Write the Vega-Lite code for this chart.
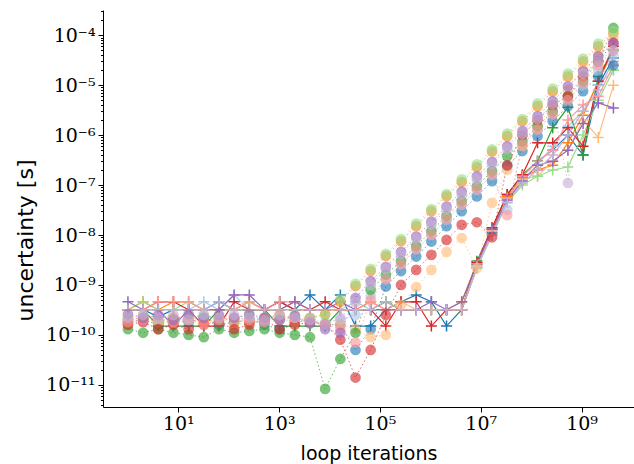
{
  "$schema": "https://vega.github.io/schema/vega-lite/v6.json",
  "width": 531,
  "height": 397,
  "autosize": {"type": "none"},
  "padding": {"left": 103, "top": 10, "right": 0, "bottom": 57},
  "background": "white",
  "config": {"view": {"stroke": null}},
  "datasets": {
    "plus": [
      {"c":"b","x":1,"y":3.2e-10},{"c":"b","x":2,"y":3.2e-10},{"c":"b","x":4,"y":2.3e-10},{"c":"b","x":8,"y":3.2e-10},{"c":"b","x":16,"y":3.2e-10},{"c":"b","x":32,"y":3.2e-10},{"c":"b","x":64,"y":4.6e-10},{"c":"b","x":128,"y":3.2e-10},{"c":"b","x":256,"y":3.2e-10},{"c":"b","x":512,"y":3.2e-10},{"c":"b","x":1024,"y":4.6e-10},{"c":"b","x":2048,"y":3.2e-10},{"c":"b","x":4096,"y":6.3e-10},{"c":"b","x":8192,"y":3.2e-10},{"c":"b","x":16384,"y":6.3e-10},{"c":"b","x":32768,"y":1.5e-10},{"c":"b","x":65536,"y":1.5e-10},{"c":"b","x":131072,"y":3.2e-10},{"c":"b","x":262144,"y":4.6e-10},{"c":"b","x":524288,"y":6.3e-10},{"c":"b","x":1048576,"y":4.6e-10},{"c":"b","x":2097152,"y":1.5e-10},{"c":"b","x":4194304,"y":3.2e-10},{"c":"b","x":8388608,"y":2.2e-9},{"c":"b","x":16777216,"y":1.1e-8},{"c":"b","x":33554432,"y":5.5e-8},{"c":"b","x":67108864,"y":1.5e-7},{"c":"b","x":134217728,"y":3e-7},{"c":"b","x":268435456,"y":5e-7},{"c":"b","x":536870912,"y":1e-6},{"c":"b","x":1073741824,"y":4e-7},{"c":"b","x":2147483648,"y":1e-5},{"c":"b","x":4294967296,"y":3.5e-5},
      {"c":"lb","x":1,"y":3.2e-10},{"c":"lb","x":2,"y":3.2e-10},{"c":"lb","x":4,"y":3.2e-10},{"c":"lb","x":8,"y":3.2e-10},{"c":"lb","x":16,"y":3.2e-10},{"c":"lb","x":32,"y":4.6e-10},{"c":"lb","x":64,"y":3.2e-10},{"c":"lb","x":128,"y":6.3e-10},{"c":"lb","x":256,"y":3.2e-10},{"c":"lb","x":512,"y":3.2e-10},{"c":"lb","x":1024,"y":3.2e-10},{"c":"lb","x":2048,"y":3.2e-10},{"c":"lb","x":4096,"y":3.2e-10},{"c":"lb","x":8192,"y":3.2e-10},{"c":"lb","x":16384,"y":3.2e-10},{"c":"lb","x":32768,"y":4.6e-10},{"c":"lb","x":65536,"y":3.2e-10},{"c":"lb","x":131072,"y":3.2e-10},{"c":"lb","x":262144,"y":3.2e-10},{"c":"lb","x":524288,"y":3.2e-10},{"c":"lb","x":1048576,"y":3.2e-10},{"c":"lb","x":2097152,"y":3.2e-10},{"c":"lb","x":4194304,"y":3.2e-10},{"c":"lb","x":8388608,"y":2.4e-9},{"c":"lb","x":16777216,"y":1e-8},{"c":"lb","x":33554432,"y":5e-8},{"c":"lb","x":67108864,"y":1.3e-7},{"c":"lb","x":134217728,"y":2.5e-7},{"c":"lb","x":268435456,"y":6e-7},{"c":"lb","x":536870912,"y":1.5e-6},{"c":"lb","x":1073741824,"y":3e-6},{"c":"lb","x":2147483648,"y":1e-5},{"c":"lb","x":4294967296,"y":2e-5},
      {"c":"o","x":1,"y":3.2e-10},{"c":"o","x":2,"y":4.6e-10},{"c":"o","x":4,"y":3.2e-10},{"c":"o","x":8,"y":4.6e-10},{"c":"o","x":16,"y":4.6e-10},{"c":"o","x":32,"y":3.2e-10},{"c":"o","x":64,"y":3.2e-10},{"c":"o","x":128,"y":3.2e-10},{"c":"o","x":256,"y":4.6e-10},{"c":"o","x":512,"y":3.2e-10},{"c":"o","x":1024,"y":3.2e-10},{"c":"o","x":2048,"y":4.6e-10},{"c":"o","x":4096,"y":3.2e-10},{"c":"o","x":8192,"y":3.2e-10},{"c":"o","x":16384,"y":3.2e-10},{"c":"o","x":32768,"y":3.2e-10},{"c":"o","x":65536,"y":4.6e-10},{"c":"o","x":131072,"y":3.2e-10},{"c":"o","x":262144,"y":3.2e-10},{"c":"o","x":524288,"y":3.2e-10},{"c":"o","x":1048576,"y":3.2e-10},{"c":"o","x":2097152,"y":3.2e-10},{"c":"o","x":4194304,"y":4.6e-10},{"c":"o","x":8388608,"y":2.8e-9},{"c":"o","x":16777216,"y":1.4e-8},{"c":"o","x":33554432,"y":6e-8},{"c":"o","x":67108864,"y":1.4e-7},{"c":"o","x":134217728,"y":2e-7},{"c":"o","x":268435456,"y":2.5e-7},{"c":"o","x":536870912,"y":7e-7},{"c":"o","x":1073741824,"y":2.5e-6},{"c":"o","x":2147483648,"y":1.2e-5},{"c":"o","x":4294967296,"y":5e-5},
      {"c":"lo","x":1,"y":3.2e-10},{"c":"lo","x":2,"y":3.2e-10},{"c":"lo","x":4,"y":3.2e-10},{"c":"lo","x":8,"y":3.2e-10},{"c":"lo","x":16,"y":3.2e-10},{"c":"lo","x":32,"y":3.2e-10},{"c":"lo","x":64,"y":3.2e-10},{"c":"lo","x":128,"y":3.2e-10},{"c":"lo","x":256,"y":3.2e-10},{"c":"lo","x":512,"y":3.2e-10},{"c":"lo","x":1024,"y":3.2e-10},{"c":"lo","x":2048,"y":3.2e-10},{"c":"lo","x":4096,"y":3.2e-10},{"c":"lo","x":8192,"y":3.2e-10},{"c":"lo","x":16384,"y":3.2e-10},{"c":"lo","x":32768,"y":3.2e-10},{"c":"lo","x":65536,"y":3.2e-10},{"c":"lo","x":131072,"y":3.2e-10},{"c":"lo","x":262144,"y":4.6e-10},{"c":"lo","x":524288,"y":3.2e-10},{"c":"lo","x":1048576,"y":3.2e-10},{"c":"lo","x":2097152,"y":3.2e-10},{"c":"lo","x":4194304,"y":3.2e-10},{"c":"lo","x":8388608,"y":2.5e-9},{"c":"lo","x":16777216,"y":1.2e-8},{"c":"lo","x":33554432,"y":5.5e-8},{"c":"lo","x":67108864,"y":1.3e-7},{"c":"lo","x":134217728,"y":1.5e-7},{"c":"lo","x":268435456,"y":3e-7},{"c":"lo","x":536870912,"y":5e-7},{"c":"lo","x":1073741824,"y":2e-6},{"c":"lo","x":2147483648,"y":9e-7},{"c":"lo","x":4294967296,"y":1e-5},
      {"c":"g","x":1,"y":3.2e-10},{"c":"g","x":2,"y":3.2e-10},{"c":"g","x":4,"y":1.5e-10},{"c":"g","x":8,"y":1.5e-10},{"c":"g","x":16,"y":1.5e-10},{"c":"g","x":32,"y":1.5e-10},{"c":"g","x":64,"y":3.2e-10},{"c":"g","x":128,"y":3.2e-10},{"c":"g","x":256,"y":3.2e-10},{"c":"g","x":512,"y":3.2e-10},{"c":"g","x":1024,"y":1.5e-10},{"c":"g","x":2048,"y":1.5e-10},{"c":"g","x":4096,"y":1.5e-10},{"c":"g","x":8192,"y":1.5e-10},{"c":"g","x":16384,"y":3.2e-10},{"c":"g","x":32768,"y":3.2e-10},{"c":"g","x":65536,"y":3.2e-10},{"c":"g","x":131072,"y":4.6e-10},{"c":"g","x":262144,"y":3.2e-10},{"c":"g","x":524288,"y":3.2e-10},{"c":"g","x":1048576,"y":3.2e-10},{"c":"g","x":2097152,"y":3.2e-10},{"c":"g","x":4194304,"y":3.2e-10},{"c":"g","x":8388608,"y":3e-9},{"c":"g","x":16777216,"y":1.3e-8},{"c":"g","x":33554432,"y":6.5e-8},{"c":"g","x":67108864,"y":1.6e-7},{"c":"g","x":134217728,"y":3e-7},{"c":"g","x":268435456,"y":1.4e-6},{"c":"g","x":536870912,"y":3.6e-6},{"c":"g","x":1073741824,"y":4e-7},{"c":"g","x":2147483648,"y":1.5e-5},{"c":"g","x":4294967296,"y":5e-5},
      {"c":"lg","x":1,"y":3.2e-10},{"c":"lg","x":2,"y":4.6e-10},{"c":"lg","x":4,"y":3.2e-10},{"c":"lg","x":8,"y":3.2e-10},{"c":"lg","x":16,"y":4.6e-10},{"c":"lg","x":32,"y":3.2e-10},{"c":"lg","x":64,"y":3.2e-10},{"c":"lg","x":128,"y":3.2e-10},{"c":"lg","x":256,"y":4.6e-10},{"c":"lg","x":512,"y":3.2e-10},{"c":"lg","x":1024,"y":3.2e-10},{"c":"lg","x":2048,"y":3.2e-10},{"c":"lg","x":4096,"y":3.2e-10},{"c":"lg","x":8192,"y":3.2e-10},{"c":"lg","x":16384,"y":3.2e-10},{"c":"lg","x":32768,"y":3.2e-10},{"c":"lg","x":65536,"y":3.2e-10},{"c":"lg","x":131072,"y":3.2e-10},{"c":"lg","x":262144,"y":3.2e-10},{"c":"lg","x":524288,"y":3.2e-10},{"c":"lg","x":1048576,"y":3.2e-10},{"c":"lg","x":2097152,"y":3.2e-10},{"c":"lg","x":4194304,"y":3.2e-10},{"c":"lg","x":8388608,"y":2.2e-9},{"c":"lg","x":16777216,"y":1e-8},{"c":"lg","x":33554432,"y":4.5e-8},{"c":"lg","x":67108864,"y":1e-7},{"c":"lg","x":134217728,"y":1.5e-7},{"c":"lg","x":268435456,"y":2e-7},{"c":"lg","x":536870912,"y":2.3e-7},{"c":"lg","x":1073741824,"y":1e-6},{"c":"lg","x":2147483648,"y":5e-6},{"c":"lg","x":4294967296,"y":2e-5},
      {"c":"r","x":1,"y":3.2e-10},{"c":"r","x":2,"y":3.2e-10},{"c":"r","x":4,"y":4.6e-10},{"c":"r","x":8,"y":4.6e-10},{"c":"r","x":16,"y":3.2e-10},{"c":"r","x":32,"y":1.5e-10},{"c":"r","x":64,"y":1.5e-10},{"c":"r","x":128,"y":4.6e-10},{"c":"r","x":256,"y":3.2e-10},{"c":"r","x":512,"y":3.2e-10},{"c":"r","x":1024,"y":4.6e-10},{"c":"r","x":2048,"y":3.2e-10},{"c":"r","x":4096,"y":3.2e-10},{"c":"r","x":8192,"y":4.6e-10},{"c":"r","x":16384,"y":3.2e-10},{"c":"r","x":32768,"y":3.2e-10},{"c":"r","x":65536,"y":3.2e-10},{"c":"r","x":131072,"y":1.5e-10},{"c":"r","x":262144,"y":4.6e-10},{"c":"r","x":524288,"y":4.6e-10},{"c":"r","x":1048576,"y":1.5e-10},{"c":"r","x":2097152,"y":3.2e-10},{"c":"r","x":4194304,"y":3.2e-10},{"c":"r","x":8388608,"y":2.8e-9},{"c":"r","x":16777216,"y":1.4e-8},{"c":"r","x":33554432,"y":6.5e-8},{"c":"r","x":67108864,"y":1.6e-7},{"c":"r","x":134217728,"y":7e-7},{"c":"r","x":268435456,"y":7e-7},{"c":"r","x":536870912,"y":1.4e-6},{"c":"r","x":1073741824,"y":6e-7},{"c":"r","x":2147483648,"y":1.2e-5},{"c":"r","x":4294967296,"y":6e-5},
      {"c":"lr","x":1,"y":3.2e-10},{"c":"lr","x":2,"y":3.2e-10},{"c":"lr","x":4,"y":4.6e-10},{"c":"lr","x":8,"y":4.6e-10},{"c":"lr","x":16,"y":4.6e-10},{"c":"lr","x":32,"y":3.2e-10},{"c":"lr","x":64,"y":3.2e-10},{"c":"lr","x":128,"y":3.2e-10},{"c":"lr","x":256,"y":4.6e-10},{"c":"lr","x":512,"y":3.2e-10},{"c":"lr","x":1024,"y":4.6e-10},{"c":"lr","x":2048,"y":4.6e-10},{"c":"lr","x":4096,"y":3.2e-10},{"c":"lr","x":8192,"y":3.2e-10},{"c":"lr","x":16384,"y":3.2e-10},{"c":"lr","x":32768,"y":3.2e-10},{"c":"lr","x":65536,"y":4.6e-10},{"c":"lr","x":131072,"y":3.2e-10},{"c":"lr","x":262144,"y":3.2e-10},{"c":"lr","x":524288,"y":3.2e-10},{"c":"lr","x":1048576,"y":3.2e-10},{"c":"lr","x":2097152,"y":3.2e-10},{"c":"lr","x":4194304,"y":3.2e-10},{"c":"lr","x":8388608,"y":2.5e-9},{"c":"lr","x":16777216,"y":1.2e-8},{"c":"lr","x":33554432,"y":5.5e-8},{"c":"lr","x":67108864,"y":1.5e-7},{"c":"lr","x":134217728,"y":3e-7},{"c":"lr","x":268435456,"y":5e-7},{"c":"lr","x":536870912,"y":2e-6},{"c":"lr","x":1073741824,"y":4e-6},{"c":"lr","x":2147483648,"y":6e-6},{"c":"lr","x":4294967296,"y":2.5e-5},
      {"c":"p","x":1,"y":4.6e-10},{"c":"p","x":2,"y":3.2e-10},{"c":"p","x":4,"y":3.2e-10},{"c":"p","x":8,"y":1.5e-10},{"c":"p","x":16,"y":3.2e-10},{"c":"p","x":32,"y":3.2e-10},{"c":"p","x":64,"y":3.2e-10},{"c":"p","x":128,"y":6.3e-10},{"c":"p","x":256,"y":6.3e-10},{"c":"p","x":512,"y":3.2e-10},{"c":"p","x":1024,"y":3.2e-10},{"c":"p","x":2048,"y":4.6e-10},{"c":"p","x":4096,"y":3.2e-10},{"c":"p","x":8192,"y":3.2e-10},{"c":"p","x":16384,"y":4.6e-10},{"c":"p","x":32768,"y":3.2e-10},{"c":"p","x":65536,"y":3.2e-10},{"c":"p","x":131072,"y":3.2e-10},{"c":"p","x":262144,"y":3.2e-10},{"c":"p","x":524288,"y":3.2e-10},{"c":"p","x":1048576,"y":4.6e-10},{"c":"p","x":2097152,"y":3.2e-10},{"c":"p","x":4194304,"y":4.6e-10},{"c":"p","x":8388608,"y":2.6e-9},{"c":"p","x":16777216,"y":1.3e-8},{"c":"p","x":33554432,"y":5e-8},{"c":"p","x":67108864,"y":1.2e-7},{"c":"p","x":134217728,"y":2.5e-7},{"c":"p","x":268435456,"y":3e-7},{"c":"p","x":536870912,"y":5e-7},{"c":"p","x":1073741824,"y":1.7e-6},{"c":"p","x":2147483648,"y":4.4e-6},{"c":"p","x":4294967296,"y":3.5e-6},
      {"c":"lp","x":1,"y":3.2e-10},{"c":"lp","x":2,"y":3.2e-10},{"c":"lp","x":4,"y":3.2e-10},{"c":"lp","x":8,"y":3.2e-10},{"c":"lp","x":16,"y":3.2e-10},{"c":"lp","x":32,"y":3.2e-10},{"c":"lp","x":64,"y":4.6e-10},{"c":"lp","x":128,"y":3.2e-10},{"c":"lp","x":256,"y":3.2e-10},{"c":"lp","x":512,"y":3.2e-10},{"c":"lp","x":1024,"y":3.2e-10},{"c":"lp","x":2048,"y":3.2e-10},{"c":"lp","x":4096,"y":3.2e-10},{"c":"lp","x":8192,"y":3.2e-10},{"c":"lp","x":16384,"y":3.2e-10},{"c":"lp","x":32768,"y":3.2e-10},{"c":"lp","x":65536,"y":3.2e-10},{"c":"lp","x":131072,"y":4.6e-10},{"c":"lp","x":262144,"y":3.2e-10},{"c":"lp","x":524288,"y":3.2e-10},{"c":"lp","x":1048576,"y":3.2e-10},{"c":"lp","x":2097152,"y":3.2e-10},{"c":"lp","x":4194304,"y":3.2e-10},{"c":"lp","x":8388608,"y":2.3e-9},{"c":"lp","x":16777216,"y":1e-8},{"c":"lp","x":33554432,"y":4.5e-8},{"c":"lp","x":67108864,"y":1.1e-7},{"c":"lp","x":134217728,"y":2e-7},{"c":"lp","x":268435456,"y":4e-7},{"c":"lp","x":536870912,"y":1e-6},{"c":"lp","x":1073741824,"y":3e-6},{"c":"lp","x":2147483648,"y":8e-6},{"c":"lp","x":4294967296,"y":3e-5}
    ],
    "circ": [
      {"c":"b","x":1,"y":1.8e-10},{"c":"b","x":2,"y":2e-10},{"c":"b","x":4,"y":1.6e-10},{"c":"b","x":8,"y":2e-10},{"c":"b","x":16,"y":1.8e-10},{"c":"b","x":32,"y":2.2e-10},{"c":"b","x":64,"y":1.6e-10},{"c":"b","x":128,"y":1.8e-10},{"c":"b","x":256,"y":2e-10},{"c":"b","x":512,"y":1.6e-10},{"c":"b","x":1024,"y":1.3e-10},{"c":"b","x":2048,"y":1.8e-10},{"c":"b","x":4096,"y":2e-10},{"c":"b","x":8192,"y":1.6e-10},{"c":"b","x":16384,"y":1.6e-10},{"c":"b","x":32768,"y":5e-11},{"c":"b","x":65536,"y":1.3e-10},{"c":"b","x":131072,"y":9.3e-10},{"c":"b","x":262144,"y":1.9e-9},{"c":"b","x":524288,"y":3.7e-9},{"c":"b","x":1048576,"y":7.4e-9},{"c":"b","x":2097152,"y":1.5e-8},{"c":"b","x":4194304,"y":3e-8},{"c":"b","x":8388608,"y":5.9e-8},{"c":"b","x":16777216,"y":1.2e-7},{"c":"b","x":33554432,"y":2.4e-7},{"c":"b","x":67108864,"y":4.8e-7},{"c":"b","x":134217728,"y":9.5e-7},{"c":"b","x":268435456,"y":1.9e-6},{"c":"b","x":536870912,"y":3.8e-6},{"c":"b","x":1073741824,"y":7.6e-6},{"c":"b","x":2147483648,"y":1.5e-5},{"c":"b","x":4294967296,"y":2.5e-5},
      {"c":"lb","x":1,"y":2e-10},{"c":"lb","x":2,"y":2.2e-10},{"c":"lb","x":4,"y":1.8e-10},{"c":"lb","x":8,"y":2e-10},{"c":"lb","x":16,"y":2.2e-10},{"c":"lb","x":32,"y":2e-10},{"c":"lb","x":64,"y":1.8e-10},{"c":"lb","x":128,"y":2.2e-10},{"c":"lb","x":256,"y":2e-10},{"c":"lb","x":512,"y":2.2e-10},{"c":"lb","x":1024,"y":2e-10},{"c":"lb","x":2048,"y":1.8e-10},{"c":"lb","x":4096,"y":2e-10},{"c":"lb","x":8192,"y":1.8e-10},{"c":"lb","x":16384,"y":2e-10},{"c":"lb","x":32768,"y":2.5e-10},{"c":"lb","x":65536,"y":6e-10},{"c":"lb","x":131072,"y":1.3e-9},{"c":"lb","x":262144,"y":2.6e-9},{"c":"lb","x":524288,"y":5.2e-9},{"c":"lb","x":1048576,"y":1e-8},{"c":"lb","x":2097152,"y":2e-8},{"c":"lb","x":4194304,"y":4e-8},{"c":"lb","x":8388608,"y":8e-8},{"c":"lb","x":16777216,"y":1.6e-7},{"c":"lb","x":33554432,"y":3.2e-8},{"c":"lb","x":67108864,"y":6.5e-7},{"c":"lb","x":134217728,"y":1.3e-6},{"c":"lb","x":268435456,"y":2.7e-6},{"c":"lb","x":536870912,"y":5.4e-6},{"c":"lb","x":1073741824,"y":1e-5},{"c":"lb","x":2147483648,"y":2e-5},{"c":"lb","x":4294967296,"y":4e-5},
      {"c":"o","x":1,"y":2e-10},{"c":"o","x":2,"y":2.2e-10},{"c":"o","x":4,"y":1.8e-10},{"c":"o","x":8,"y":2.2e-10},{"c":"o","x":16,"y":2e-10},{"c":"o","x":32,"y":1.8e-10},{"c":"o","x":64,"y":2.2e-10},{"c":"o","x":128,"y":2e-10},{"c":"o","x":256,"y":1.8e-10},{"c":"o","x":512,"y":2.2e-10},{"c":"o","x":1024,"y":2.5e-10},{"c":"o","x":2048,"y":2e-10},{"c":"o","x":4096,"y":2.2e-10},{"c":"o","x":8192,"y":2.6e-10},{"c":"o","x":16384,"y":4.6e-10},{"c":"o","x":32768,"y":9.5e-10},{"c":"o","x":65536,"y":1.9e-9},{"c":"o","x":131072,"y":3.8e-9},{"c":"o","x":262144,"y":7.5e-9},{"c":"o","x":524288,"y":1.5e-8},{"c":"o","x":1048576,"y":3e-8},{"c":"o","x":2097152,"y":6e-8},{"c":"o","x":4194304,"y":1.15e-7},{"c":"o","x":8388608,"y":2.3e-7},{"c":"o","x":16777216,"y":4.7e-7},{"c":"o","x":33554432,"y":9.5e-7},{"c":"o","x":67108864,"y":1.9e-6},{"c":"o","x":134217728,"y":3.8e-6},{"c":"o","x":268435456,"y":7.5e-6},{"c":"o","x":536870912,"y":1.5e-5},{"c":"o","x":1073741824,"y":3e-5},{"c":"o","x":2147483648,"y":6e-5},{"c":"o","x":4294967296,"y":1.1e-4},
      {"c":"lo","x":1,"y":1.6e-10},{"c":"lo","x":2,"y":2e-10},{"c":"lo","x":4,"y":1.8e-10},{"c":"lo","x":8,"y":1.6e-10},{"c":"lo","x":16,"y":2e-10},{"c":"lo","x":32,"y":1.8e-10},{"c":"lo","x":64,"y":2.2e-10},{"c":"lo","x":128,"y":1.6e-10},{"c":"lo","x":256,"y":1.8e-10},{"c":"lo","x":512,"y":2e-10},{"c":"lo","x":1024,"y":2.2e-10},{"c":"lo","x":2048,"y":1.8e-10},{"c":"lo","x":4096,"y":2e-10},{"c":"lo","x":8192,"y":1.6e-10},{"c":"lo","x":16384,"y":1.6e-10},{"c":"lo","x":32768,"y":1.3e-10},{"c":"lo","x":65536,"y":9e-11},{"c":"lo","x":131072,"y":1e-10},{"c":"lo","x":262144,"y":4e-10},{"c":"lo","x":524288,"y":9e-10},{"c":"lo","x":1048576,"y":2e-9},{"c":"lo","x":2097152,"y":4.6e-9},{"c":"lo","x":4194304,"y":8.7e-9},{"c":"lo","x":8388608,"y":2.2e-9},{"c":"lo","x":16777216,"y":4.4e-8},{"c":"lo","x":33554432,"y":2e-7},{"c":"lo","x":67108864,"y":6e-7},{"c":"lo","x":134217728,"y":1.5e-6},{"c":"lo","x":268435456,"y":4e-6},{"c":"lo","x":536870912,"y":8e-6},{"c":"lo","x":1073741824,"y":2e-5},{"c":"lo","x":2147483648,"y":4e-5},{"c":"lo","x":4294967296,"y":9e-5},
      {"c":"g","x":1,"y":1.3e-10},{"c":"g","x":2,"y":1.1e-10},{"c":"g","x":4,"y":1.3e-10},{"c":"g","x":8,"y":1.1e-10},{"c":"g","x":16,"y":1e-10},{"c":"g","x":32,"y":9e-11},{"c":"g","x":64,"y":1.3e-10},{"c":"g","x":128,"y":1.1e-10},{"c":"g","x":256,"y":1.2e-10},{"c":"g","x":512,"y":1.3e-10},{"c":"g","x":1024,"y":1.1e-10},{"c":"g","x":2048,"y":1e-10},{"c":"g","x":4096,"y":9e-11},{"c":"g","x":8192,"y":8.3e-12},{"c":"g","x":16384,"y":3.3e-11},{"c":"g","x":32768,"y":1.1e-10},{"c":"g","x":65536,"y":8e-10},{"c":"g","x":131072,"y":1.6e-9},{"c":"g","x":262144,"y":3e-9},{"c":"g","x":524288,"y":6e-9},{"c":"g","x":1048576,"y":1.2e-8},{"c":"g","x":2097152,"y":2.4e-8},{"c":"g","x":4194304,"y":4.8e-8},{"c":"g","x":8388608,"y":9.5e-8},{"c":"g","x":16777216,"y":1.9e-7},{"c":"g","x":33554432,"y":3.8e-7},{"c":"g","x":67108864,"y":7.5e-7},{"c":"g","x":134217728,"y":1.5e-6},{"c":"g","x":268435456,"y":3e-6},{"c":"g","x":536870912,"y":6e-6},{"c":"g","x":1073741824,"y":1.2e-5},{"c":"g","x":2147483648,"y":3e-5},{"c":"g","x":4294967296,"y":1.4e-4},
      {"c":"lg","x":1,"y":2.2e-10},{"c":"lg","x":2,"y":2.5e-10},{"c":"lg","x":4,"y":2e-10},{"c":"lg","x":8,"y":1.8e-10},{"c":"lg","x":16,"y":2.2e-10},{"c":"lg","x":32,"y":2.5e-10},{"c":"lg","x":64,"y":2e-10},{"c":"lg","x":128,"y":2.2e-10},{"c":"lg","x":256,"y":2.5e-10},{"c":"lg","x":512,"y":2e-10},{"c":"lg","x":1024,"y":2.2e-10},{"c":"lg","x":2048,"y":2.5e-10},{"c":"lg","x":4096,"y":2.2e-10},{"c":"lg","x":8192,"y":2.5e-10},{"c":"lg","x":16384,"y":5.1e-10},{"c":"lg","x":32768,"y":1.05e-9},{"c":"lg","x":65536,"y":2.1e-9},{"c":"lg","x":131072,"y":4.2e-9},{"c":"lg","x":262144,"y":8.3e-9},{"c":"lg","x":524288,"y":1.7e-8},{"c":"lg","x":1048576,"y":3.3e-8},{"c":"lg","x":2097152,"y":6.6e-8},{"c":"lg","x":4194304,"y":1.3e-7},{"c":"lg","x":8388608,"y":2.6e-7},{"c":"lg","x":16777216,"y":5.2e-7},{"c":"lg","x":33554432,"y":1.07e-6},{"c":"lg","x":67108864,"y":2.1e-6},{"c":"lg","x":134217728,"y":4.3e-6},{"c":"lg","x":268435456,"y":8.5e-6},{"c":"lg","x":536870912,"y":1.7e-5},{"c":"lg","x":1073741824,"y":3.4e-5},{"c":"lg","x":2147483648,"y":6.8e-5},{"c":"lg","x":4294967296,"y":1.2e-4},
      {"c":"r","x":1,"y":1.6e-10},{"c":"r","x":2,"y":1.8e-10},{"c":"r","x":4,"y":1.3e-10},{"c":"r","x":8,"y":1.6e-10},{"c":"r","x":16,"y":1.3e-10},{"c":"r","x":32,"y":1.6e-10},{"c":"r","x":64,"y":1.8e-10},{"c":"r","x":128,"y":1.3e-10},{"c":"r","x":256,"y":1.6e-10},{"c":"r","x":512,"y":2e-10},{"c":"r","x":1024,"y":1.3e-10},{"c":"r","x":2048,"y":1.6e-10},{"c":"r","x":4096,"y":1.8e-10},{"c":"r","x":8192,"y":1.6e-10},{"c":"r","x":16384,"y":8e-11},{"c":"r","x":32768,"y":1.4e-11},{"c":"r","x":65536,"y":5e-11},{"c":"r","x":131072,"y":2.5e-10},{"c":"r","x":262144,"y":1e-9},{"c":"r","x":524288,"y":2e-9},{"c":"r","x":1048576,"y":4e-9},{"c":"r","x":2097152,"y":8e-9},{"c":"r","x":4194304,"y":1.6e-8},{"c":"r","x":8388608,"y":1.8e-8},{"c":"r","x":16777216,"y":9e-9},{"c":"r","x":33554432,"y":2.5e-7},{"c":"r","x":67108864,"y":1e-6},{"c":"r","x":134217728,"y":2e-6},{"c":"r","x":268435456,"y":4e-6},{"c":"r","x":536870912,"y":6e-6},{"c":"r","x":1073741824,"y":1.5e-5},{"c":"r","x":2147483648,"y":3e-5},{"c":"r","x":4294967296,"y":7e-5},
      {"c":"lr","x":1,"y":1.8e-10},{"c":"lr","x":2,"y":2e-10},{"c":"lr","x":4,"y":2.2e-10},{"c":"lr","x":8,"y":1.8e-10},{"c":"lr","x":16,"y":2e-10},{"c":"lr","x":32,"y":1.6e-10},{"c":"lr","x":64,"y":2e-10},{"c":"lr","x":128,"y":2.2e-10},{"c":"lr","x":256,"y":2e-10},{"c":"lr","x":512,"y":1.8e-10},{"c":"lr","x":1024,"y":2e-10},{"c":"lr","x":2048,"y":2.2e-10},{"c":"lr","x":4096,"y":1.8e-10},{"c":"lr","x":8192,"y":1.6e-10},{"c":"lr","x":16384,"y":1.3e-10},{"c":"lr","x":32768,"y":7e-11},{"c":"lr","x":65536,"y":5e-10},{"c":"lr","x":131072,"y":1.3e-9},{"c":"lr","x":262144,"y":2.6e-9},{"c":"lr","x":524288,"y":5.2e-9},{"c":"lr","x":1048576,"y":1e-8},{"c":"lr","x":2097152,"y":2.1e-8},{"c":"lr","x":4194304,"y":4.2e-8},{"c":"lr","x":8388608,"y":8.3e-8},{"c":"lr","x":16777216,"y":1.6e-7},{"c":"lr","x":33554432,"y":2.5e-8},{"c":"lr","x":67108864,"y":6.5e-7},{"c":"lr","x":134217728,"y":1.3e-6},{"c":"lr","x":268435456,"y":2.6e-6},{"c":"lr","x":536870912,"y":5e-6},{"c":"lr","x":1073741824,"y":1.1e-5},{"c":"lr","x":2147483648,"y":2.5e-5},{"c":"lr","x":4294967296,"y":5e-5},
      {"c":"p","x":1,"y":2.6e-10},{"c":"p","x":2,"y":2.2e-10},{"c":"p","x":4,"y":2.5e-10},{"c":"p","x":8,"y":2e-10},{"c":"p","x":16,"y":2.6e-10},{"c":"p","x":32,"y":2.2e-10},{"c":"p","x":64,"y":2.5e-10},{"c":"p","x":128,"y":2.2e-10},{"c":"p","x":256,"y":2.6e-10},{"c":"p","x":512,"y":2.2e-10},{"c":"p","x":1024,"y":2e-10},{"c":"p","x":2048,"y":2.4e-10},{"c":"p","x":4096,"y":1.7e-10},{"c":"p","x":8192,"y":1.3e-10},{"c":"p","x":16384,"y":1.1e-10},{"c":"p","x":32768,"y":5.5e-10},{"c":"p","x":65536,"y":1.2e-9},{"c":"p","x":131072,"y":2.3e-9},{"c":"p","x":262144,"y":4.6e-9},{"c":"p","x":524288,"y":9.3e-9},{"c":"p","x":1048576,"y":1.85e-8},{"c":"p","x":2097152,"y":3.7e-8},{"c":"p","x":4194304,"y":7.4e-8},{"c":"p","x":8388608,"y":1.5e-7},{"c":"p","x":16777216,"y":2.9e-7},{"c":"p","x":33554432,"y":6e-7},{"c":"p","x":67108864,"y":1.2e-6},{"c":"p","x":134217728,"y":2.4e-6},{"c":"p","x":268435456,"y":4.8e-6},{"c":"p","x":536870912,"y":9.5e-6},{"c":"p","x":1073741824,"y":1.9e-5},{"c":"p","x":2147483648,"y":3.8e-5},{"c":"p","x":4294967296,"y":7e-5},
      {"c":"lp","x":1,"y":2.2e-10},{"c":"lp","x":2,"y":2.5e-10},{"c":"lp","x":4,"y":2.2e-10},{"c":"lp","x":8,"y":2.5e-10},{"c":"lp","x":16,"y":2e-10},{"c":"lp","x":32,"y":2.5e-10},{"c":"lp","x":64,"y":2.2e-10},{"c":"lp","x":128,"y":2.5e-10},{"c":"lp","x":256,"y":2.2e-10},{"c":"lp","x":512,"y":2e-10},{"c":"lp","x":1024,"y":2.5e-10},{"c":"lp","x":2048,"y":2.2e-10},{"c":"lp","x":4096,"y":2e-10},{"c":"lp","x":8192,"y":1.6e-10},{"c":"lp","x":16384,"y":2.2e-10},{"c":"lp","x":32768,"y":4.5e-10},{"c":"lp","x":65536,"y":1e-9},{"c":"lp","x":131072,"y":2.1e-9},{"c":"lp","x":262144,"y":4.2e-9},{"c":"lp","x":524288,"y":8.5e-9},{"c":"lp","x":1048576,"y":1.6e-8},{"c":"lp","x":2097152,"y":3.3e-8},{"c":"lp","x":4194304,"y":6.5e-8},{"c":"lp","x":8388608,"y":1.3e-7},{"c":"lp","x":16777216,"y":2.6e-7},{"c":"lp","x":33554432,"y":5.3e-7},{"c":"lp","x":67108864,"y":1.05e-6},{"c":"lp","x":134217728,"y":2.1e-6},{"c":"lp","x":268435456,"y":4.2e-6},{"c":"lp","x":536870912,"y":1.1e-7},{"c":"lp","x":1073741824,"y":1.7e-5},{"c":"lp","x":2147483648,"y":3e-5},{"c":"lp","x":4294967296,"y":5e-5}
    ]
  },
  "resolve": {"axis": {"x": "independent", "y": "independent"}},
  "layer": [
    {
      "data": {"name": "plus"},
      "mark": {"type": "line", "strokeWidth": 1.2},
      "encoding": {
        "x": {"field": "x", "type": "quantitative", "scale": {"type": "log", "domain": [0.32, 11000000000], "nice": false},
          "axis": {"title": "loop iterations", "values": [10, 1000, 100000, 10000000, 1000000000], "grid": false,
            "labelExpr": "'10' + (datum.value < 1 ? '⁻' : '') + (abs(round(log(datum.value)/LN10)) >= 10 ? '¹' : '') + ['⁰','¹','²','³','⁴','⁵','⁶','⁷','⁸','⁹'][abs(round(log(datum.value)/LN10)) % 10]",
            "labelFont": "DejaVu Serif", "labelFontSize": 19, "labelColor": "#000", "labelPadding": 2,
            "domainColor": "#000", "tickColor": "#000", "tickSize": 5,
            "titleFont": "DejaVu Sans", "titleFontSize": 19, "titleFontWeight": "normal", "titleColor": "#000", "titlePadding": 11}},
        "y": {"field": "y", "type": "quantitative", "scale": {"type": "log", "domain": [3.6e-12, 3.2e-4], "nice": false},
          "axis": {"title": "uncertainty [s]", "values": [1e-11, 1e-10, 1e-9, 1e-8, 1e-7, 1e-6, 1e-5, 1e-4], "grid": false,
            "labelExpr": "'10' + (datum.value < 1 ? '⁻' : '') + (abs(round(log(datum.value)/LN10)) >= 10 ? '¹' : '') + ['⁰','¹','²','³','⁴','⁵','⁶','⁷','⁸','⁹'][abs(round(log(datum.value)/LN10)) % 10]",
            "labelFont": "DejaVu Serif", "labelFontSize": 19, "labelColor": "#000", "labelPadding": 3,
            "domainColor": "#000", "tickColor": "#000", "tickSize": 5,
            "titleFont": "DejaVu Sans", "titleFontSize": 22, "titleFontWeight": "normal", "titleColor": "#000",
            "titleX": -66, "titleY": 230, "titleAngle": -90, "titleBaseline": "bottom", "titleAlign": "center"}},
        "color": {"field": "c", "type": "nominal", "legend": null,
          "scale": {"domain": ["b","lb","o","lo","g","lg","r","lr","p","lp"], "range": ["#1f77b4","#aec7e8","#ff7f0e","#ffbb78","#2ca02c","#98df8a","#d62728","#ff9896","#9467bd","#c5b0d5"]}}
      }
    },
    {
      "data": {"name": "plus"},
      "mark": {"type": "point", "shape": "M-1,0L1,0M0,-1L0,1", "filled": false, "size": 120, "strokeWidth": 1.5, "opacity": 1},
      "encoding": {
        "x": {"field": "x", "type": "quantitative", "axis": null},
        "y": {"field": "y", "type": "quantitative",
          "axis": {"orient": "left", "title": null, "labels": false, "domain": false, "grid": false, "tickSize": 2.5, "tickColor": "#000",
            "values": [4e-12,5e-12,6e-12,7e-12,8e-12,9e-12,2e-11,3e-11,4e-11,5e-11,6e-11,7e-11,8e-11,9e-11,2e-10,3e-10,4e-10,5e-10,6e-10,7e-10,8e-10,9e-10,2e-9,3e-9,4e-9,5e-9,6e-9,7e-9,8e-9,9e-9,2e-8,3e-8,4e-8,5e-8,6e-8,7e-8,8e-8,9e-8,2e-7,3e-7,4e-7,5e-7,6e-7,7e-7,8e-7,9e-7,2e-6,3e-6,4e-6,5e-6,6e-6,7e-6,8e-6,9e-6,2e-5,3e-5,4e-5,5e-5,6e-5,7e-5,8e-5,9e-5,2e-4,3e-4]}},
        "color": {"field": "c", "type": "nominal", "legend": null}
      }
    },
    {
      "data": {"name": "circ"},
      "mark": {"type": "line", "strokeWidth": 1, "strokeDash": [1.5, 2.5], "opacity": 0.7},
      "encoding": {
        "x": {"field": "x", "type": "quantitative", "axis": null},
        "y": {"field": "y", "type": "quantitative", "axis": null},
        "color": {"field": "c", "type": "nominal", "legend": null}
      }
    },
    {
      "data": {"name": "circ"},
      "mark": {"type": "circle", "size": 115, "opacity": 0.62},
      "encoding": {
        "x": {"field": "x", "type": "quantitative", "axis": null},
        "y": {"field": "y", "type": "quantitative", "axis": null},
        "color": {"field": "c", "type": "nominal", "legend": null}
      }
    }
  ]
}
